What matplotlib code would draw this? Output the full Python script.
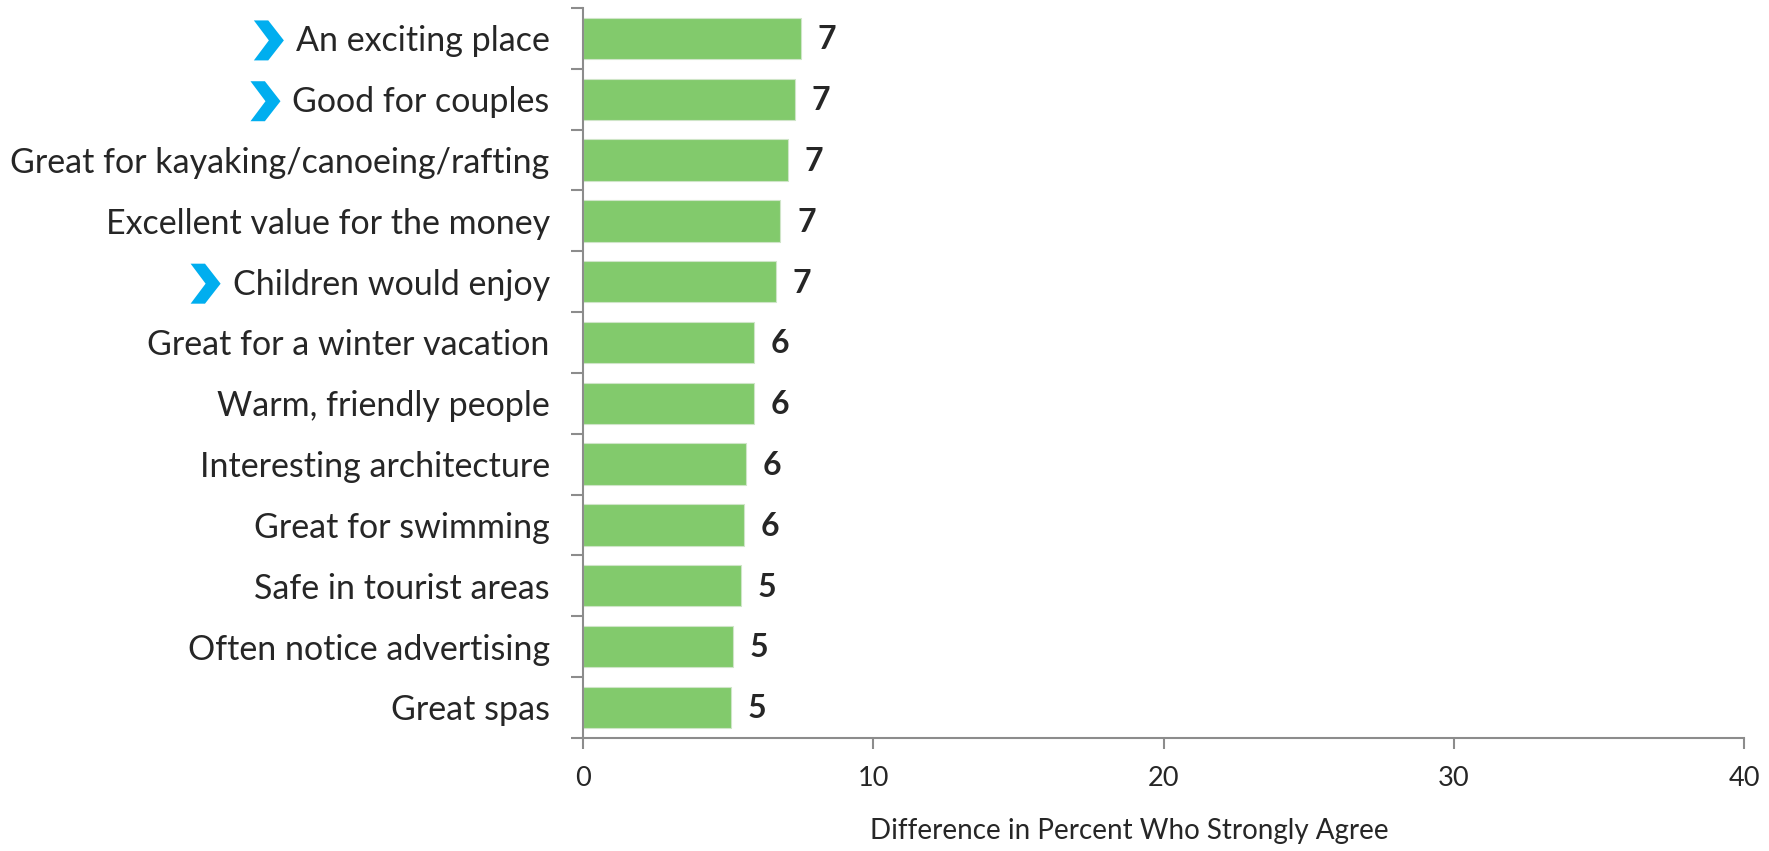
import matplotlib
matplotlib.use("Agg")
import matplotlib.pyplot as plt
from matplotlib.patches import Polygon
from matplotlib.ticker import FixedLocator

# data
categories = [
    "An exciting place",
    "Good for couples",
    "Great for kayaking/canoeing/rafting",
    "Excellent value for the money",
    "Children would enjoy",
    "Great for a winter vacation",
    "Warm, friendly people",
    "Interesting architecture",
    "Great for swimming",
    "Safe in tourist areas",
    "Often notice advertising",
    "Great spas",
]
values = [7.5, 7.3, 7.05, 6.8, 6.65, 5.9, 5.9, 5.6, 5.55, 5.45, 5.15, 5.1]
value_labels = ["7", "7", "7", "7", "7", "6", "6", "6", "6", "5", "5", "5"]
highlighted = ["An exciting place", "Good for couples", "Children would enjoy"]
x_ticks = [0, 10, 20, 30, 40]

bar_color = "#82CA6C"
axis_color = "#8C8C8C"
text_color = "#262626"
chevron_color = "#00AEEF"
font = "Lato"

fig = plt.figure(figsize=(17.69, 8.51), dpi=100)
ax = fig.add_axes([0.3296, 0.133, 0.6563, 0.8576])

ypos = list(range(len(categories)))
ax.barh(ypos, values, height=0.68, color=bar_color, edgecolor="#CFE5C8", linewidth=0.8)

for y, v, lab in zip(ypos, values, value_labels):
    ax.annotate(lab, xy=(v, y), xytext=(12, -1), textcoords="offset points",
                va="center", ha="left", fontsize=23, fontweight="bold",
                color=text_color, family=font)

ax.set_xlim(0, 40)
ax.set_ylim(len(categories) - 0.5, -0.5)

ax.set_xticks(x_ticks)
ax.set_xticklabels([str(t) for t in x_ticks], fontsize=19.5, color=text_color, family=font)
ax.tick_params(axis="x", direction="out", length=8, width=1.5, color=axis_color, pad=12)

ax.set_yticks(ypos)
ax.set_yticklabels(categories, fontsize=24.5, color=text_color, family=font)
ax.tick_params(axis="y", which="major", length=0, pad=24)
ax.yaxis.set_minor_locator(FixedLocator([i - 0.5 for i in range(len(categories) + 1)]))
ax.tick_params(axis="y", which="minor", direction="out", length=9, width=1.5, color=axis_color)

for side in ["top", "right"]:
    ax.spines[side].set_visible(False)
for side in ["left", "bottom"]:
    ax.spines[side].set_color(axis_color)
    ax.spines[side].set_linewidth(1.5)

fig.text(0.6385, 0.024, "Difference in Percent Who Strongly Agree", fontsize=20,
         color=text_color, family=font, ha="center", va="center")

# blue chevrons in front of highlighted labels
fig.canvas.draw()
renderer = fig.canvas.get_renderer()
to_fig = fig.transFigure.inverted()
for lbl in ax.get_yticklabels():
    if lbl.get_text() in highlighted:
        bb = lbl.get_window_extent(renderer)
        cy = (bb.y0 + bb.y1) / 2 + 1
        w, h = 30, 40
        x1 = bb.x0 - 12
        x0 = x1 - w
        pts = [
            (x0, cy + h / 2),
            (x0 + 0.48 * w, cy + h / 2),
            (x1, cy),
            (x0 + 0.48 * w, cy - h / 2),
            (x0, cy - h / 2),
            (x0 + 0.5 * w, cy),
        ]
        pts = [to_fig.transform(p) for p in pts]
        fig.patches.append(Polygon(pts, closed=True, transform=fig.transFigure,
                                   facecolor=chevron_color, edgecolor="none"))

fig.savefig("out.png", dpi=100)
